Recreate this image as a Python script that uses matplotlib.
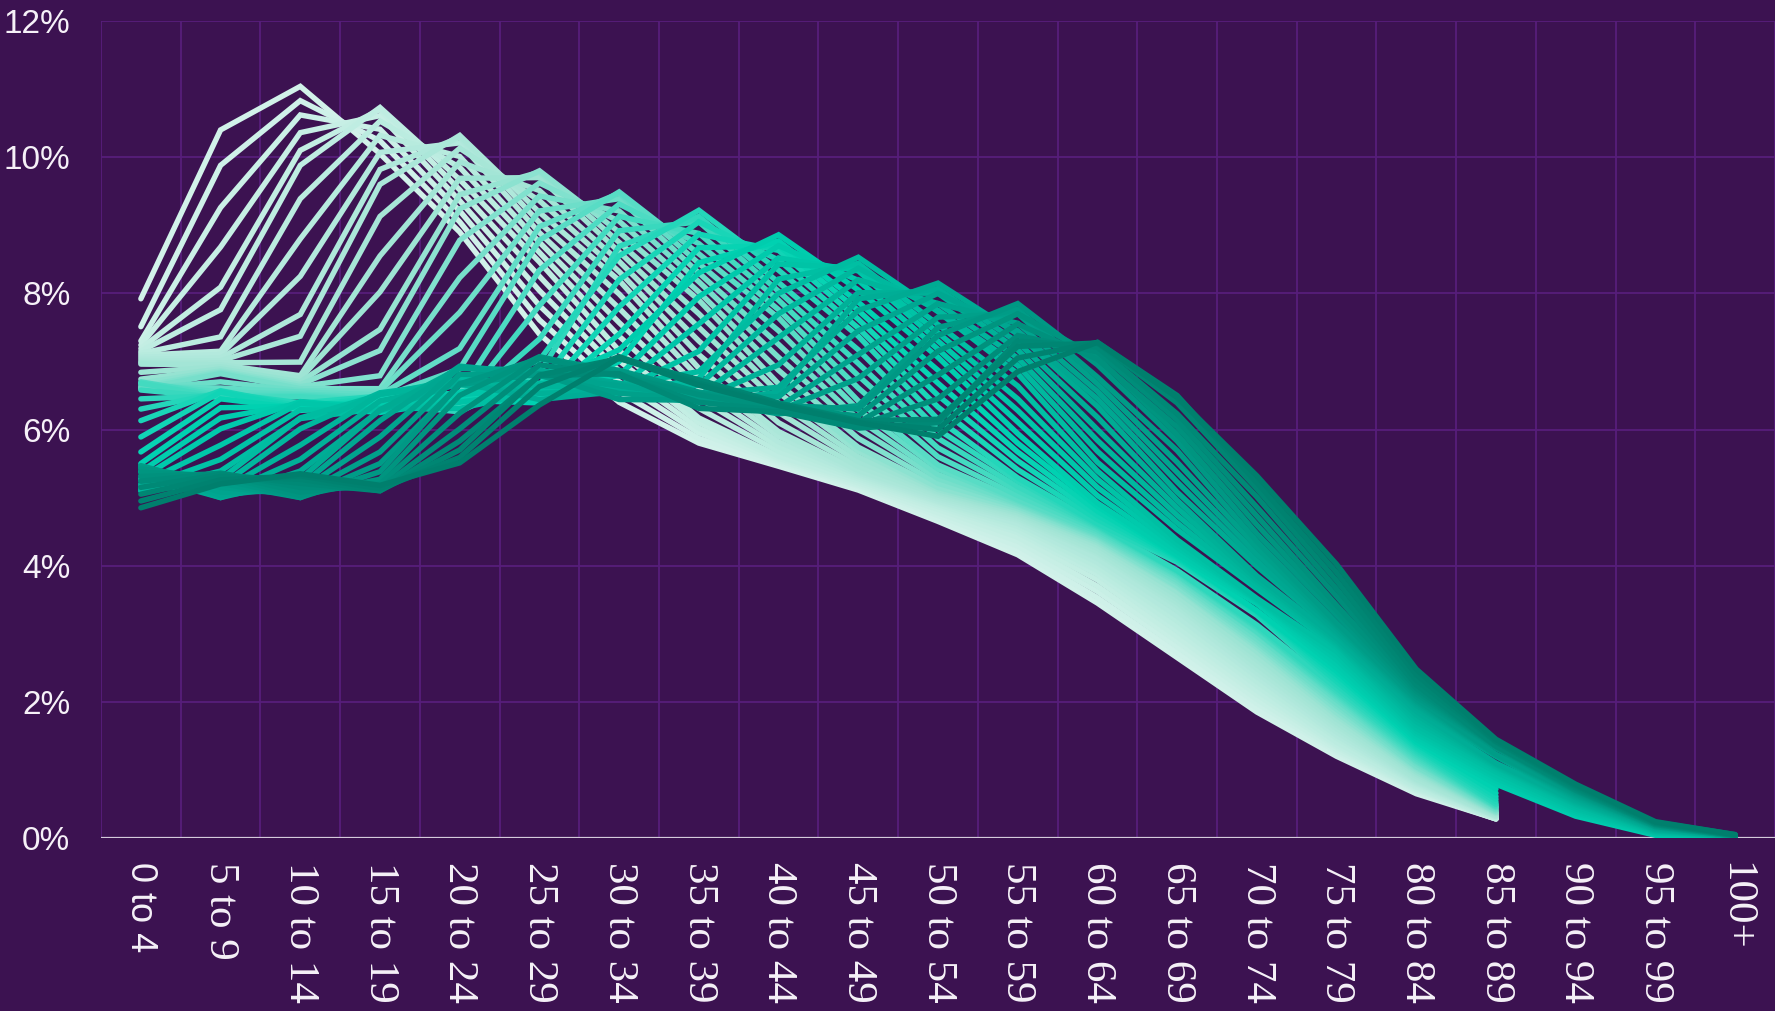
import numpy as np
import matplotlib
matplotlib.use("Agg")
import matplotlib.pyplot as plt
from matplotlib.colors import LinearSegmentedColormap
from matplotlib.transforms import blended_transform_factory

# ---------------- data (share of population, %, one line per year) ----------------
years = list(range(1971, 2024))
age_groups = ["0 to 4", "5 to 9", "10 to 14", "15 to 19", "20 to 24", "25 to 29",
              "30 to 34", "35 to 39", "40 to 44", "45 to 49", "50 to 54", "55 to 59",
              "60 to 64", "65 to 69", "70 to 74", "75 to 79", "80 to 84", "85 to 89",
              "90 to 94", "95 to 99", "100+"]
y_tick_values = [0, 2, 4, 6, 8, 10, 12]
y_tick_labels = ["0%", "2%", "4%", "6%", "8%", "10%", "12%"]

age_0_4 = [7.92, 7.51, 7.30, 7.24, 7.19, 7.15, 7.12, 7.09, 7.06, 7.03, 7.00, 6.98, 6.96, 6.84, 6.74, 6.68, 6.63, 6.60, 6.60, 6.63, 6.67, 6.70, 6.68, 6.58, 6.45, 6.30, 6.13, 5.89, 5.67, 5.50, 5.38, 5.28, 5.20, 5.14, 5.10, 5.10, 5.13, 5.18, 5.25, 5.32, 5.38, 5.43, 5.46, 5.47, 5.45, 5.42, 5.37, 5.31, 5.24, 5.15, 5.05, 4.95, 4.85]
age_5_9 = [10.40, 9.88, 9.26, 8.68, 8.09, 7.76, 7.36, 7.15, 7.10, 7.05, 7.01, 6.98, 6.95, 6.92, 6.89, 6.86, 6.84, 6.82, 6.70, 6.61, 6.55, 6.50, 6.47, 6.47, 6.50, 6.54, 6.57, 6.55, 6.45, 6.32, 6.17, 6.01, 5.77, 5.56, 5.39, 5.27, 5.17, 5.10, 5.04, 5.00, 5.00, 5.03, 5.08, 5.15, 5.21, 5.27, 5.32, 5.35, 5.36, 5.34, 5.31, 5.26, 5.20]
age_10_14 = [11.04, 10.83, 10.62, 10.36, 10.10, 9.88, 9.39, 8.80, 8.25, 7.69, 7.37, 6.99, 6.79, 6.75, 6.70, 6.66, 6.63, 6.60, 6.57, 6.55, 6.52, 6.50, 6.48, 6.37, 6.28, 6.39, 6.34, 6.31, 6.31, 6.34, 6.38, 6.41, 6.39, 6.29, 6.16, 6.17, 6.01, 5.77, 5.56, 5.39, 5.27, 5.17, 5.10, 5.04, 5.00, 5.00, 5.03, 5.08, 5.15, 5.21, 5.27, 5.32, 5.35]
age_15_19 = [10.05, 10.24, 10.41, 10.61, 10.70, 10.73, 10.53, 10.32, 10.07, 9.82, 9.60, 9.13, 8.55, 8.02, 7.47, 7.16, 6.79, 6.60, 6.56, 6.51, 6.47, 6.44, 6.42, 6.39, 6.37, 6.49, 6.47, 6.45, 6.34, 6.25, 6.36, 6.31, 6.28, 6.28, 6.31, 6.51, 6.54, 6.52, 6.42, 6.28, 6.29, 6.13, 5.89, 5.67, 5.50, 5.38, 5.27, 5.20, 5.14, 5.10, 5.10, 5.13, 5.18]
age_20_24 = [8.90, 9.05, 9.21, 9.36, 9.52, 9.67, 9.85, 10.01, 10.21, 10.29, 10.32, 10.13, 9.93, 9.69, 9.45, 9.24, 8.78, 8.23, 7.72, 7.19, 6.89, 6.53, 6.35, 6.31, 6.26, 6.53, 6.50, 6.48, 6.45, 6.43, 6.55, 6.53, 6.51, 6.40, 6.31, 6.74, 6.69, 6.66, 6.66, 6.69, 6.90, 6.93, 6.91, 6.81, 6.66, 6.67, 6.50, 6.24, 6.01, 5.83, 5.70, 5.59, 5.51]
age_25_29 = [7.40, 7.61, 7.82, 8.04, 8.25, 8.46, 8.60, 8.75, 8.89, 9.04, 9.19, 9.36, 9.51, 9.70, 9.78, 9.80, 9.62, 9.43, 9.21, 8.98, 8.78, 8.34, 7.82, 7.33, 6.83, 7.02, 6.65, 6.48, 6.44, 6.39, 6.65, 6.63, 6.61, 6.58, 6.56, 6.68, 6.66, 6.64, 6.53, 6.44, 6.87, 6.82, 6.79, 6.79, 6.82, 7.04, 7.07, 7.05, 6.95, 6.79, 6.80, 6.63, 6.36]
age_30_34 = [6.40, 6.55, 6.70, 6.86, 7.01, 7.16, 7.37, 7.57, 7.78, 7.99, 8.19, 8.32, 8.47, 8.61, 8.75, 8.90, 9.06, 9.21, 9.39, 9.47, 9.49, 9.31, 9.13, 8.92, 8.69, 8.55, 8.20, 7.80, 7.40, 7.00, 7.17, 6.79, 6.62, 6.57, 6.52, 6.65, 6.63, 6.61, 6.58, 6.56, 6.68, 6.66, 6.64, 6.53, 6.44, 6.87, 6.82, 6.79, 6.79, 6.82, 7.04, 7.07, 7.05]
age_35_39 = [5.80, 5.87, 5.95, 6.02, 6.10, 6.17, 6.31, 6.46, 6.61, 6.76, 6.90, 7.10, 7.30, 7.50, 7.70, 7.90, 8.02, 8.17, 8.30, 8.44, 8.58, 8.73, 8.88, 9.05, 9.13, 9.22, 9.05, 8.87, 8.67, 8.45, 8.30, 7.95, 7.55, 7.15, 6.75, 6.85, 6.65, 6.49, 6.44, 6.39, 6.52, 6.50, 6.48, 6.45, 6.43, 6.55, 6.53, 6.51, 6.40, 6.31, 6.73, 6.68, 6.65]
age_40_44 = [5.46, 5.49, 5.52, 5.55, 5.58, 5.61, 5.68, 5.75, 5.82, 5.90, 5.97, 6.10, 6.25, 6.39, 6.54, 6.67, 6.87, 7.06, 7.25, 7.45, 7.64, 7.76, 7.90, 8.03, 8.16, 8.34, 8.49, 8.63, 8.70, 8.77, 8.86, 8.70, 8.52, 8.43, 8.21, 8.00, 7.70, 7.35, 6.95, 6.55, 6.62, 6.48, 6.33, 6.28, 6.23, 6.36, 6.33, 6.31, 6.28, 6.26, 6.39, 6.37, 6.35]
age_45_49 = [5.11, 5.14, 5.17, 5.19, 5.22, 5.25, 5.28, 5.31, 5.34, 5.37, 5.40, 5.46, 5.53, 5.60, 5.68, 5.74, 5.87, 6.01, 6.15, 6.29, 6.42, 6.61, 6.79, 6.97, 7.17, 7.37, 7.49, 7.62, 7.75, 7.87, 8.05, 8.19, 8.33, 8.37, 8.44, 8.53, 8.37, 8.20, 8.01, 7.92, 7.75, 7.45, 7.10, 6.75, 6.35, 6.30, 6.20, 6.10, 6.06, 6.02, 6.13, 6.11, 6.10]
age_50_54 = [4.65, 4.69, 4.74, 4.78, 4.83, 4.87, 4.90, 4.93, 4.95, 4.98, 5.01, 5.04, 5.07, 5.09, 5.12, 5.15, 5.21, 5.28, 5.34, 5.42, 5.48, 5.60, 5.73, 5.87, 6.00, 6.15, 6.33, 6.50, 6.68, 6.87, 7.06, 7.18, 7.30, 7.42, 7.54, 7.73, 7.75, 7.85, 8.00, 8.07, 8.15, 8.00, 7.85, 7.65, 7.50, 7.38, 7.15, 6.80, 6.45, 6.10, 6.15, 6.00, 5.90]
age_55_59 = [4.16, 4.23, 4.29, 4.36, 4.42, 4.49, 4.53, 4.58, 4.62, 4.67, 4.70, 4.73, 4.76, 4.78, 4.81, 4.84, 4.87, 4.90, 4.92, 4.95, 4.97, 5.03, 5.10, 5.16, 5.24, 5.29, 5.41, 5.54, 5.67, 5.80, 5.94, 6.11, 6.28, 6.45, 6.64, 6.82, 6.94, 7.05, 7.17, 7.28, 7.40, 7.45, 7.56, 7.70, 7.77, 7.85, 7.70, 7.55, 7.38, 7.30, 7.22, 7.05, 6.85]
age_60_64 = [3.45, 3.53, 3.62, 3.70, 3.79, 3.87, 3.93, 3.99, 4.05, 4.11, 4.18, 4.21, 4.26, 4.30, 4.34, 4.37, 4.40, 4.43, 4.45, 4.47, 4.50, 4.53, 4.56, 4.58, 4.60, 4.62, 4.68, 4.74, 4.80, 4.87, 4.92, 5.03, 5.15, 5.27, 5.39, 5.52, 5.68, 5.84, 6.00, 6.18, 6.34, 6.45, 6.56, 6.67, 6.77, 6.95, 7.06, 7.03, 7.14, 7.21, 7.27, 7.28, 7.28]
age_65_69 = [2.65, 2.73, 2.81, 2.89, 2.96, 3.04, 3.11, 3.19, 3.26, 3.34, 3.41, 3.46, 3.51, 3.56, 3.62, 3.68, 3.70, 3.75, 3.78, 3.82, 3.85, 3.87, 3.90, 3.92, 3.93, 4.05, 4.08, 4.10, 4.12, 4.14, 4.16, 4.21, 4.27, 4.32, 4.38, 4.53, 4.63, 4.74, 4.85, 4.96, 5.08, 5.23, 5.37, 5.52, 5.69, 5.83, 5.93, 6.04, 6.14, 6.23, 6.39, 6.50, 6.47]
age_70_74 = [1.85, 1.91, 1.98, 2.04, 2.11, 2.17, 2.24, 2.30, 2.37, 2.43, 2.49, 2.55, 2.62, 2.67, 2.74, 2.80, 2.84, 2.88, 2.92, 2.97, 3.02, 3.03, 3.08, 3.10, 3.13, 3.27, 3.29, 3.32, 3.33, 3.34, 3.44, 3.47, 3.49, 3.50, 3.52, 3.66, 3.70, 3.76, 3.80, 3.85, 3.99, 4.07, 4.17, 4.27, 4.36, 4.47, 4.60, 4.73, 4.86, 5.01, 5.13, 5.22, 5.32]
age_75_79 = [1.20, 1.23, 1.27, 1.30, 1.34, 1.37, 1.41, 1.47, 1.51, 1.56, 1.61, 1.66, 1.70, 1.75, 1.80, 1.84, 1.89, 1.94, 1.98, 2.03, 2.07, 2.10, 2.13, 2.16, 2.20, 2.25, 2.30, 2.35, 2.40, 2.45, 2.50, 2.56, 2.62, 2.68, 2.74, 2.80, 2.84, 2.87, 2.90, 2.94, 3.00, 3.03, 3.08, 3.12, 3.16, 3.27, 3.34, 3.42, 3.55, 3.66, 3.78, 3.90, 4.02]
age_80_84 = [0.65, 0.67, 0.69, 0.71, 0.72, 0.74, 0.76, 0.79, 0.81, 0.83, 0.85, 0.87, 0.91, 0.94, 0.97, 1.00, 1.03, 1.05, 1.09, 1.12, 1.14, 1.17, 1.20, 1.23, 1.26, 1.29, 1.32, 1.35, 1.38, 1.41, 1.45, 1.49, 1.53, 1.57, 1.61, 1.66, 1.71, 1.76, 1.81, 1.86, 1.91, 1.95, 1.98, 2.01, 2.04, 2.08, 2.12, 2.16, 2.20, 2.25, 2.32, 2.40, 2.48]
age_85_89 = [0.28, 0.28, 0.28, 0.29, 0.29, 0.29, 0.30, 0.31, 0.32, 0.32, 0.33, 0.34, 0.36, 0.36, 0.37, 0.38, 0.39, 0.41, 0.42, 0.44, 0.45, 0.46, 0.47, 0.49, 0.50, 0.53, 0.57, 0.61, 0.66, 0.72, 0.79, 0.84, 0.88, 0.92, 0.97, 1.01, 1.04, 1.06, 1.08, 1.10, 1.20, 1.21, 1.21, 1.22, 1.23, 1.32, 1.34, 1.34, 1.35, 1.35, 1.41, 1.42, 1.45]
# the oldest groups are only reported from 2001 onwards (None = not reported)
age_90_94 = [None] * 30 + [0.32, 0.35, 0.37, 0.40, 0.43, 0.46, 0.49, 0.51, 0.53, 0.55, 0.57, 0.59, 0.61, 0.63, 0.65, 0.67, 0.69, 0.70, 0.71, 0.73, 0.75, 0.77, 0.79]
age_95_99 = [None] * 30 + [0.04, 0.05, 0.06, 0.07, 0.08, 0.09, 0.10, 0.11, 0.12, 0.13, 0.14, 0.15, 0.16, 0.17, 0.17, 0.18, 0.19, 0.20, 0.20, 0.21, 0.22, 0.23, 0.24]
age_100_plus = [None] * 30 + [0.01, 0.01, 0.01, 0.01, 0.01, 0.02, 0.02, 0.02, 0.02, 0.02, 0.02, 0.03, 0.03, 0.03, 0.03, 0.03, 0.03, 0.04, 0.04, 0.04, 0.04, 0.05, 0.05]

series = [age_0_4, age_5_9, age_10_14, age_15_19, age_20_24, age_25_29, age_30_34,
          age_35_39, age_40_44, age_45_49, age_50_54, age_55_59, age_60_64, age_65_69,
          age_70_74, age_75_79, age_80_84, age_85_89, age_90_94, age_95_99, age_100_plus]
for s in series:
    assert len(s) == len(years), len(s)

# ---------------- style ----------------
BG = "#3c1251"
GRID = "#571e7b"
ZERO = "#d4cadb"
TEXT = "#f6f1f8"
SERIF = ["Liberation Serif", "DejaVu Serif", "serif"]
SANS = ["Liberation Sans", "DejaVu Sans"]

cmap = LinearSegmentedColormap.from_list(
    "mint", [(0.0, "#d2f2ea"), (0.25, "#9fe4d4"), (0.55, "#00d2b2"),
             (0.8, "#00a58f"), (1.0, "#007f6d")])

W, H = 1775, 1011
fig = plt.figure(figsize=(W / 100, H / 100), dpi=100, facecolor=BG)
ax_left, ax_right, ax_top, ax_bottom = 101, 1775, 21, 838
ax_h = ax_bottom - ax_top
ax = fig.add_axes([ax_left / W, 1 - ax_bottom / H, (ax_right - ax_left) / W, ax_h / H])
ax.set_facecolor(BG)
ax.set_xlim(-0.5, len(age_groups) - 0.5)
ax.set_ylim(0, 12)
for sp in ax.spines.values():
    sp.set_visible(False)

for xb in np.arange(-0.5, len(age_groups), 1.0):
    ax.axvline(xb, color=GRID, lw=1.3, zorder=0)
for yv in y_tick_values[1:]:
    ax.axhline(yv, color=GRID, lw=1.3, zorder=0)
ax.axhline(0, color=ZERO, lw=1.6, zorder=1)

n = len(years)
for t in range(n):
    xs, ys = [], []
    for i, s in enumerate(series):
        if s[t] is not None:
            xs.append(i)
            ys.append(s[t])
    ax.plot(xs, ys, color=cmap(t / (n - 1)), lw=3.9, solid_capstyle="round",
            solid_joinstyle="miter", zorder=2 + t)

# y axis labels
ax.set_yticks(y_tick_values)
ax.set_yticklabels(y_tick_labels, fontfamily=SANS, fontsize=24, color=TEXT)
ax.tick_params(axis="y", length=0, pad=22)

# x axis labels: drawn as rotated text under each category
ax.set_xticks(range(len(age_groups)))
ax.set_xticklabels([])
ax.tick_params(axis="x", length=0)
trans = blended_transform_factory(ax.transData, ax.transAxes)
label_y = -24 / ax_h
for i, lab in enumerate(age_groups):
    if i == 0:
        fam, size = SANS, 26
    else:
        fam, size = SERIF, 31
    ax.text(i, label_y, lab, transform=trans, rotation=-90, ha="center", va="top",
            fontfamily=fam, fontsize=size, color=TEXT, clip_on=False)

fig.savefig("out.png", dpi=100, facecolor=BG)
